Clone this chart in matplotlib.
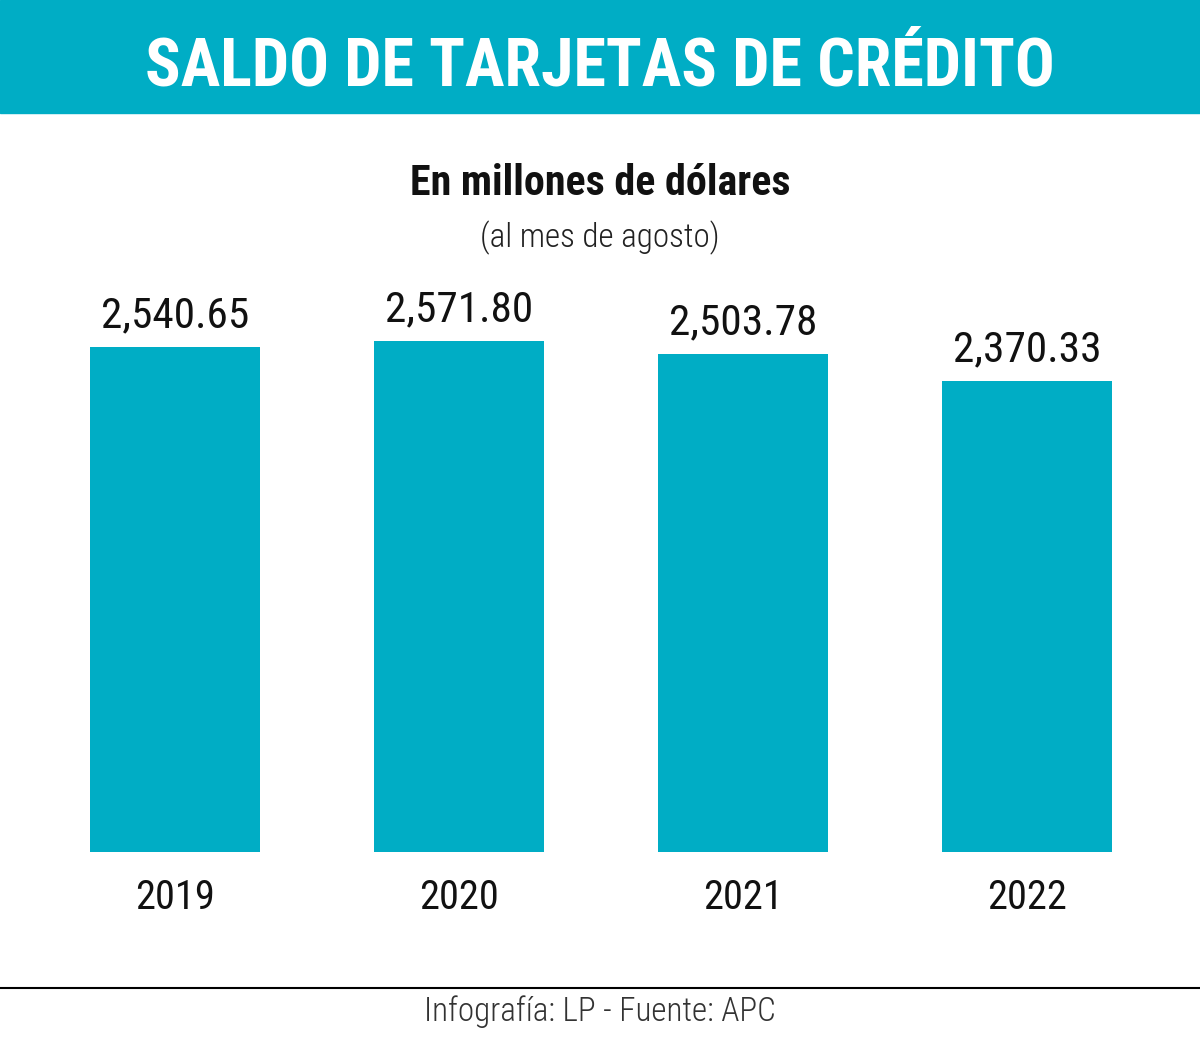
import matplotlib
matplotlib.use('Agg')
import matplotlib.pyplot as plt
from matplotlib import font_manager

years = ['2019', '2020', '2021', '2022']
saldo = [2540.65, 2571.80, 2503.78, 2370.33]
value_labels = ['2,540.65', '2,571.80', '2,503.78', '2,370.33']

title = 'SALDO DE TARJETAS DE CRÉDITO'
subtitle = 'En millones de dólares'
note = '(al mes de agosto)'
source = 'Infografía: LP - Fuente: APC'

teal = '#00adc5'

# look for a narrow face, fall back to DejaVu
names = {f.name for f in font_manager.fontManager.ttflist}
fam = ['DejaVu Sans']
for n in ['Roboto Condensed', 'Liberation Sans Narrow', 'Open Sans Condensed', 'DejaVu Sans Condensed']:
    if n in names:
        fam = [n, 'DejaVu Sans']
        break

W, H = 1200, 1053
fig = plt.figure(figsize=(W / 100, H / 100), dpi=100)
renderer = fig.canvas.get_renderer()


def fit(t, target_px, max_size):
    # scale font so the text width matches the reference width
    w = t.get_window_extent(renderer).width
    t.set_fontsize(min(max_size, t.get_fontsize() * target_px / w))
    return t


# header band
fig.patches.append(plt.Rectangle((0, 1 - 113 / H), 1, 113 / H, transform=fig.transFigure,
                                 color=teal, zorder=0))
t = fig.text(0.5, 1 - 85 / H, title, ha='center', va='baseline', color='white',
             fontsize=54, fontweight='bold', family=fam, fontstretch='condensed')
fit(t, 910, 58)
t = fig.text(0.5, 1 - 195 / H, subtitle, ha='center', va='baseline', color='#111111',
             fontsize=31, fontweight='bold', family=fam, fontstretch='condensed')
fit(t, 380, 33)
t = fig.text(0.5, 1 - 238 / H, note, ha='center', va='center', color='#222222',
             fontsize=23, fontweight='light', family=fam, fontstretch='condensed')
fit(t, 240, 25)

# bars
base, top = 852, 113
ax = fig.add_axes([0, 1 - base / H, 1, (base - top) / H])
x = list(range(len(years)))
ax.bar(x, saldo, width=0.6, color=teal)
ax.set_xlim(-175 / 284, (W - 175) / 284)
ax.set_ylim(0, (base - top) / 0.1988)
ax.axis('off')
for xi, v, lab in zip(x, saldo, value_labels):
    t = ax.annotate(lab, (xi, v), xytext=(0, 14), textcoords='offset points',
                    ha='center', va='baseline', fontsize=34, color='#111111',
                    family=fam, fontstretch='condensed')
    fit(t, 148, 36)
    t = ax.annotate(years[xi], (xi, 0), xytext=(0, -41), textcoords='offset points',
                    ha='center', va='baseline', fontsize=34, color='#111111',
                    family=fam, fontstretch='condensed')
    fit(t, 80, 36)

# footer
fig.add_artist(plt.Line2D([0, 1], [1 - 988 / H] * 2, transform=fig.transFigure,
                          color='black', lw=1.5))
t = fig.text(0.5, 1 - 1012 / H, source, ha='center', va='center', color='#333333',
             fontsize=20, fontweight='light', family=fam, fontstretch='condensed')
fit(t, 352, 26)

fig.savefig('out.png', dpi=100)
